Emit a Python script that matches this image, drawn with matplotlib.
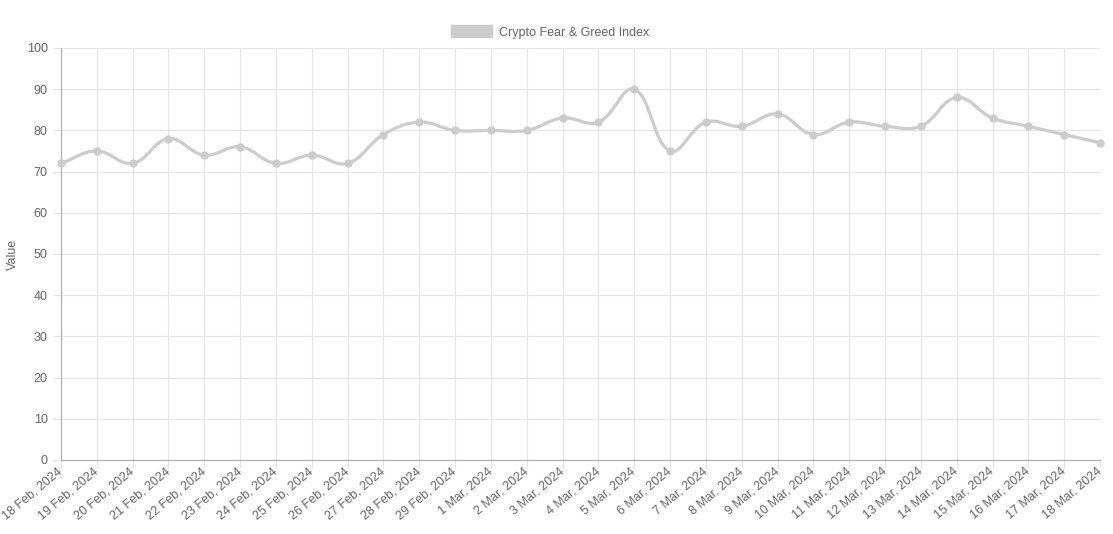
import matplotlib
matplotlib.use("Agg")
import matplotlib.pyplot as plt
from matplotlib.path import Path
from matplotlib.patches import PathPatch, Patch
import numpy as np

plt.rcParams['font.family'] = ['Liberation Sans', 'DejaVu Sans']

dates = ["18 Feb, 2024", "19 Feb, 2024", "20 Feb, 2024", "21 Feb, 2024", "22 Feb, 2024",
         "23 Feb, 2024", "24 Feb, 2024", "25 Feb, 2024", "26 Feb, 2024", "27 Feb, 2024",
         "28 Feb, 2024", "29 Feb, 2024", "1 Mar, 2024", "2 Mar, 2024", "3 Mar, 2024",
         "4 Mar, 2024", "5 Mar, 2024", "6 Mar, 2024", "7 Mar, 2024", "8 Mar, 2024",
         "9 Mar, 2024", "10 Mar, 2024", "11 Mar, 2024", "12 Mar, 2024", "13 Mar, 2024",
         "14 Mar, 2024", "15 Mar, 2024", "16 Mar, 2024", "17 Mar, 2024", "18 Mar, 2024"]
values = [72, 75, 72, 78, 74, 76, 72, 74, 72, 79,
          82, 80, 80, 80, 83, 82, 90, 75, 82, 81,
          84, 79, 82, 81, 81, 88, 83, 81, 79, 77]
series_name = "Crypto Fear & Greed Index"
y_ticks = list(range(0, 101, 10))

line_col = "#cccccc"
text_col = "#666666"
grid_col = "#e5e5e5"

fig = plt.figure(figsize=(11.13, 5.34), dpi=100)
ax = fig.add_axes([61 / 1113, 74 / 534, 1039 / 1113, 412 / 534])

x = np.arange(len(values))
ax.set_xlim(0, len(values) - 1)
ax.set_ylim(0, 100)

# smooth line like chart.js (tension 0.4), control points in pixel space
pts = ax.transData.transform(np.column_stack([x, values]))
t = 0.4
verts = [pts[0]]
codes = [Path.MOVETO]
cps = []
for i in range(len(pts)):
    prev = pts[max(i - 1, 0)]
    cur = pts[i]
    nxt = pts[min(i + 1, len(pts) - 1)]
    d01 = np.hypot(*(cur - prev))
    d12 = np.hypot(*(nxt - cur))
    tot = d01 + d12
    s01 = d01 / tot if tot else 0
    s12 = d12 / tot if tot else 0
    cps.append((cur - t * s01 * (nxt - prev), cur + t * s12 * (nxt - prev)))
for i in range(1, len(pts)):
    verts += [cps[i - 1][1], cps[i][0], pts[i]]
    codes += [Path.CURVE4] * 3
verts = ax.transData.inverted().transform(np.array(verts))
ax.add_patch(PathPatch(Path(verts, codes), facecolor="none", edgecolor=line_col,
                       lw=2.3, zorder=3, clip_on=False, capstyle="round", joinstyle="round"))
ax.plot(x, values, "o", color=line_col, ms=5, zorder=4, clip_on=False)

ax.set_yticks(y_ticks)
ax.set_xticks(x)
ax.set_xticklabels(dates, rotation=40, ha="right", va="center", rotation_mode="anchor")
ax.tick_params(axis="both", colors=grid_col, labelcolor=text_col, labelsize=9, length=6, width=0.8)
ax.tick_params(axis="x", pad=1)
ax.grid(True, color=grid_col, lw=0.8)
ax.set_axisbelow(True)
for s in ["top", "right"]:
    ax.spines[s].set_visible(False)
for s in ["left", "bottom"]:
    ax.spines[s].set_color("#b0b0b0")
    ax.spines[s].set_linewidth(0.9)
fig.text(13 / 1113, 1 - 254 / 534, "Value", rotation=90, ha="center", va="center",
         color=text_col, fontsize=9)

fig.legend(handles=[Patch(facecolor=line_col, edgecolor=line_col)], labels=[series_name],
           loc="center", bbox_to_anchor=(550 / 1113, 1 - 32 / 534), frameon=False,
           fontsize=9, labelcolor=text_col, handlelength=3.3, handleheight=1.1, handletextpad=0.5)

fig.savefig("out.png", dpi=100)
